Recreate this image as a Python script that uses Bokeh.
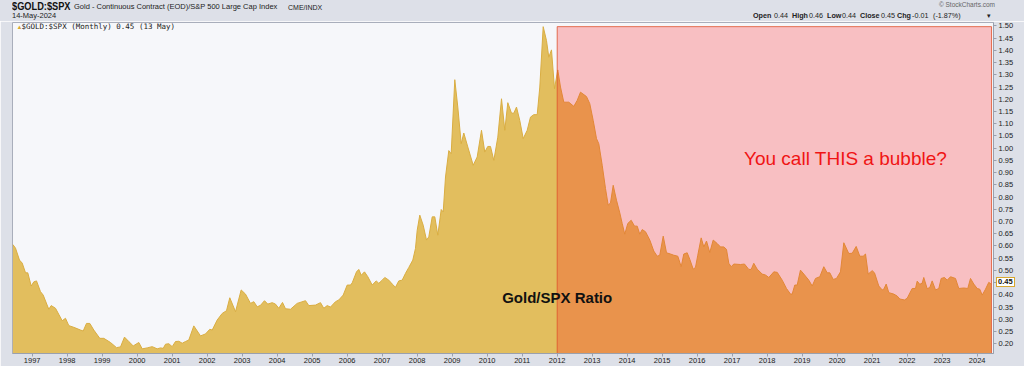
from bokeh.plotting import figure
from bokeh.models import Range1d, FixedTicker, Label, Div
from bokeh.layouts import column
from bokeh.embed import file_html
from bokeh.resources import INLINE

# ---- data (decimal year, Gold/SPX ratio) ----
t = [1996.446, 1996.523, 1996.637, 1996.714, 1996.809, 1996.874, 1996.971, 1997.046, 1997.123, 1997.237,
     1997.314, 1997.474, 1997.543, 1997.666, 1997.857, 1997.951, 1998.046, 1998.189, 1998.380, 1998.457,
     1998.551, 1998.646, 1998.760, 1998.931, 1999.046, 1999.237, 1999.409, 1999.523, 1999.637, 1999.760,
     1999.886, 2000.046, 2000.143, 2000.286, 2000.429, 2000.571, 2000.666, 2000.743, 2000.809, 2000.903,
     2001.000, 2001.094, 2001.189, 2001.286, 2001.380, 2001.474, 2001.617, 2001.809, 2001.951, 2002.074,
     2002.143, 2002.286, 2002.429, 2002.551, 2002.646, 2002.809, 2002.971, 2003.094, 2003.237, 2003.331,
     2003.429, 2003.523, 2003.637, 2003.731, 2003.857, 2003.951, 2004.046, 2004.151, 2004.237, 2004.380,
     2004.571, 2004.809, 2004.903, 2005.094, 2005.237, 2005.331, 2005.429, 2005.523, 2005.666, 2005.760,
     2005.886, 2006.000, 2006.094, 2006.143, 2006.266, 2006.331, 2006.400, 2006.494, 2006.589, 2006.714,
     2006.829, 2006.903, 2007.000, 2007.074, 2007.189, 2007.286, 2007.380, 2007.474, 2007.571, 2007.666,
     2007.760, 2007.874, 2007.951, 2008.000, 2008.074, 2008.171, 2008.266, 2008.331, 2008.429, 2008.503,
     2008.589, 2008.686, 2008.743, 2008.809, 2008.903, 2008.971, 2009.074, 2009.160, 2009.257, 2009.331,
     2009.446, 2009.600, 2009.714, 2009.837, 2009.931, 2010.017, 2010.094, 2010.189, 2010.303, 2010.409,
     2010.503, 2010.589, 2010.694, 2010.760, 2010.837, 2010.931, 2011.029, 2011.143, 2011.237, 2011.331,
     2011.429, 2011.503, 2011.600, 2011.694, 2011.760, 2011.837, 2011.923, 2012.017, 2012.094, 2012.189,
     2012.331, 2012.474, 2012.571, 2012.666, 2012.837, 2012.931, 2013.029, 2013.123, 2013.189, 2013.286,
     2013.380, 2013.457, 2013.523, 2013.600, 2013.694, 2013.789, 2013.857, 2013.931, 2014.017, 2014.114,
     2014.209, 2014.286, 2014.360, 2014.429, 2014.523, 2014.646, 2014.760, 2014.857, 2014.931, 2015.029,
     2015.123, 2015.237, 2015.331, 2015.446, 2015.543, 2015.617, 2015.714, 2015.789, 2015.886, 2015.951,
     2016.017, 2016.114, 2016.189, 2016.266, 2016.360, 2016.457, 2016.571, 2016.666, 2016.760, 2016.837,
     2016.903, 2016.971, 2017.046, 2017.237, 2017.351, 2017.474, 2017.543, 2017.617, 2017.714, 2017.857,
     2017.951, 2018.046, 2018.189, 2018.286, 2018.429, 2018.551, 2018.666, 2018.714, 2018.789, 2018.857,
     2018.951, 2019.046, 2019.189, 2019.286, 2019.380, 2019.503, 2019.617, 2019.714, 2019.789, 2019.886,
     2019.980, 2020.094, 2020.189, 2020.331, 2020.429, 2020.543, 2020.646, 2020.743, 2020.809, 2020.886,
     2021.000, 2021.066, 2021.189, 2021.286, 2021.331, 2021.400, 2021.474, 2021.617, 2021.714, 2021.789,
     2021.923, 2022.000, 2022.143, 2022.237, 2022.286, 2022.360, 2022.429, 2022.474, 2022.571, 2022.646,
     2022.714, 2022.809, 2022.903, 2022.971, 2023.066, 2023.143, 2023.237, 2023.380, 2023.474, 2023.617,
     2023.731, 2023.809, 2023.903, 2024.000, 2024.074, 2024.143, 2024.237, 2024.331, 2024.400]
ratio = [0.606, 0.591, 0.542, 0.530, 0.490, 0.490, 0.436, 0.453, 0.457, 0.413,
         0.399, 0.341, 0.356, 0.345, 0.294, 0.304, 0.274, 0.267, 0.256, 0.252,
         0.283, 0.283, 0.256, 0.222, 0.222, 0.205, 0.184, 0.187, 0.227, 0.209,
         0.191, 0.205, 0.179, 0.183, 0.188, 0.179, 0.183, 0.181, 0.198, 0.200,
         0.188, 0.209, 0.210, 0.202, 0.209, 0.215, 0.273, 0.232, 0.240, 0.259,
         0.256, 0.297, 0.324, 0.335, 0.388, 0.331, 0.420, 0.403, 0.365, 0.372,
         0.351, 0.357, 0.376, 0.362, 0.368, 0.362, 0.345, 0.369, 0.343, 0.341,
         0.365, 0.376, 0.356, 0.358, 0.368, 0.345, 0.356, 0.350, 0.372, 0.379,
         0.399, 0.440, 0.440, 0.449, 0.494, 0.504, 0.480, 0.494, 0.474, 0.440,
         0.457, 0.447, 0.460, 0.471, 0.460, 0.444, 0.431, 0.457, 0.460, 0.488,
         0.512, 0.542, 0.590, 0.664, 0.726, 0.685, 0.624, 0.637, 0.719, 0.719,
         0.644, 0.749, 0.739, 0.882, 0.990, 0.977, 1.280, 1.168, 1.018, 1.062,
         1.005, 0.930, 0.964, 1.073, 0.984, 1.007, 1.007, 0.950, 1.045, 1.202,
         1.073, 1.186, 1.143, 1.143, 1.168, 1.113, 1.039, 1.073, 1.127, 1.137,
         1.137, 1.250, 1.497, 1.440, 1.372, 1.402, 1.243, 1.320, 1.250, 1.188,
         1.188, 1.171, 1.195, 1.229, 1.211, 1.182, 1.113, 1.039, 1.018, 0.930,
         0.835, 0.767, 0.776, 0.848, 0.787, 0.735, 0.692, 0.648, 0.692, 0.705,
         0.681, 0.681, 0.648, 0.667, 0.658, 0.624, 0.579, 0.558, 0.562, 0.640,
         0.572, 0.567, 0.562, 0.558, 0.515, 0.567, 0.572, 0.545, 0.505, 0.512,
         0.562, 0.633, 0.596, 0.620, 0.573, 0.624, 0.610, 0.596, 0.596, 0.586,
         0.529, 0.515, 0.526, 0.524, 0.526, 0.504, 0.504, 0.529, 0.505, 0.485,
         0.481, 0.471, 0.494, 0.492, 0.460, 0.426, 0.403, 0.403, 0.440, 0.440,
         0.501, 0.485, 0.460, 0.436, 0.467, 0.474, 0.515, 0.490, 0.490, 0.463,
         0.467, 0.494, 0.613, 0.569, 0.570, 0.598, 0.558, 0.558, 0.567, 0.485,
         0.499, 0.490, 0.436, 0.420, 0.423, 0.444, 0.409, 0.403, 0.395, 0.383,
         0.379, 0.386, 0.426, 0.426, 0.456, 0.443, 0.448, 0.471, 0.425, 0.430,
         0.457, 0.420, 0.426, 0.467, 0.471, 0.460, 0.474, 0.467, 0.426, 0.428,
         0.426, 0.467, 0.444, 0.426, 0.423, 0.399, 0.423, 0.451, 0.444]

year_ticks = list(range(1997, 2025))
year_labels = [str(y) for y in year_ticks]
y_ticks = [0.20, 0.25, 0.30, 0.35, 0.40, 0.45, 0.50, 0.55, 0.60, 0.65, 0.70, 0.75, 0.80, 0.85,
           0.90, 0.95, 1.00, 1.05, 1.10, 1.15, 1.20, 1.25, 1.30, 1.35, 1.40, 1.45, 1.50]
y_tick_labels = ["%.2f" % v for v in y_ticks]
highlight_start = 2012.0
highlight_end = 2024.41
highlight_top = 1.497
last_value = 0.45

X0, X1 = 1996.437, 2024.466
Y0, Y1 = 0.16, 1.514

W = 1024
HDR = 21                 # header strip height (page px)
H = 366 - HDR            # figure height
ML, MR, MT, MB = 12, 31, 1, 13
FRAME_TOP = HDR + MT     # page px
FRAME_BOT = HDR + H - MB # page px
BG = "#dde0e8"

p = figure(width=W, height=H, output_backend="svg", toolbar_location=None,
           x_range=Range1d(X0, X1), y_range=Range1d(Y0, Y1),
           y_axis_location="right",
           min_border_left=ML, min_border_right=MR, min_border_top=MT, min_border_bottom=MB)
p.background_fill_color = "#f6f7fa"
p.border_fill_color = BG
p.outline_line_color = "#a9aebb"
p.grid.visible = False

gold = "#e2be5e"
p.varea(x=t, y1=Y0, y2=ratio, fill_color=gold)
p.line(x=t, y=ratio, line_color="#d9ad42", line_width=1)

p.quad(left=[highlight_start], right=[highlight_end], bottom=[Y0], top=[highlight_top],
       fill_color="#ff1215", fill_alpha=0.245, line_color="#e0502c", line_alpha=0.8, line_width=1)

# axes
xa = p.xaxis[0]
xa.ticker = FixedTicker(ticks=year_ticks)
xa.major_label_overrides = {y: s for y, s in zip(year_ticks, year_labels)}
xa.major_label_text_font = "Liberation Sans"
xa.major_label_text_font_size = "7.5px"
xa.major_label_text_color = "#222222"
xa.major_tick_out = 3
xa.major_tick_in = 0
xa.minor_tick_line_color = None
xa.major_label_standoff = 1
xa.axis_line_color = "#9aa0ad"
xa.major_tick_line_color = "#9aa0ad"

ya = p.yaxis[0]
ya.ticker = FixedTicker(ticks=y_ticks)
ya.major_label_overrides = {v: s for v, s in zip(y_ticks, y_tick_labels)}
ya.major_label_text_font = "Liberation Sans"
ya.major_label_text_font_size = "7.5px"
ya.major_label_text_color = "#222222"
ya.major_tick_out = 3
ya.major_tick_in = 0
ya.minor_tick_line_color = None
ya.major_label_standoff = 2
ya.axis_line_color = "#9aa0ad"
ya.major_tick_line_color = "#9aa0ad"

# screen-unit labels are relative to the frame's bottom-left corner
def lab(cx, cy, text, size="7.5px", bold=False, color="#222222", align="left",
        font="Liberation Sans"):
    p.add_layout(Label(x=cx - ML, y=FRAME_BOT - cy, x_units="screen", y_units="screen", text=text,
                       text_font=font, text_font_size=size,
                       text_font_style="bold" if bold else "normal",
                       text_color=color, text_align=align, text_baseline="middle"))

# annotations in data space
p.add_layout(Label(x=2012.0, y=0.391, text="Gold/SPX Ratio", text_align="center", text_baseline="middle",
                   text_font="Liberation Sans", text_font_style="bold", text_font_size="15px",
                   text_color="#111111"))
p.add_layout(Label(x=2020.24, y=0.958, text="You call THIS a bubble?", text_align="center",
                   text_baseline="middle", text_font="Liberation Sans", text_font_size="19px",
                   text_color="#f01414"))

# legend inside the plot
lab(16, 26, "\u25b2", size="6px", color="#d8a830")
lab(21, 26, "$GOLD:$SPX (Monthly) 0.45 (13 May)", size="7.5px", font="DejaVu Sans Mono")

# ---- header strip (HTML) ----
def span(left, center_y, text, size, bold=False, color="#222", right=None, extra=""):
    pos = "left:%dpx;" % left if right is None else "right:%dpx;" % right
    return ('<span style="position:absolute;%stop:%.1fpx;font-size:%s;line-height:%s;'
            'font-weight:%s;color:%s;white-space:nowrap;%s">%s</span>'
            % (pos, center_y - float(size[:-2]) / 2, size, size,
               "bold" if bold else "normal", color, extra, text))

parts = [
    span(12, 6.7, "$GOLD:$SPX", "11px", True, "#111",
         extra="transform:scaleX(0.84);transform-origin:left center;"),
    span(74, 7.0, "Gold - Continuous Contract (EOD)/S&amp;P 500 Large Cap Index", "7.5px"),
    span(288, 7.0, "CME/INDX", "7px"),
    span(12, 16.0, "14-May-2024", "7.5px"),
    span(0, 5.3, "\u00a9 StockCharts.com", "6.5px", color="#666", right=W - 995),
]
segs = [(753, "Open", True), (774, "0.44", False), (792, "High", True), (809, "0.46", False),
        (827, "Low", True), (842, "0.44", False), (860, "Close", True), (881, "0.45", False),
        (897, "Chg", True), (912, "-0.01", False), (933, "(-1.87%)", False), (987, "\u25be", False)]
for x, s, b in segs:
    parts.append(span(x, 16.0, s, "7.2px", b))

# boxed last value on the price axis (page y of 0.45 on the axis)
y_last = FRAME_TOP + (Y1 - last_value) / (Y1 - Y0) * (FRAME_BOT - FRAME_TOP)
parts.append(span(996, y_last - 1, "%.2f" % last_value, "7.5px", True, "#111",
                  extra="z-index:10;background:#fff;border:1px solid #d8a830;padding:0 1px;"))

header = Div(text='<div style="position:relative;width:%dpx;height:%dpx;background:%s;'
                  'font-family:\'Liberation Sans\',Arial,sans-serif;overflow:visible;">%s</div>'
                  % (W, HDR, BG, "".join(parts)),
             width=W, height=HDR, margin=(0, 0, 0, 0), disable_math=True,
             styles={"overflow": "visible", "z-index": "5"})

layout = column(header, p, spacing=0, margin=(0, 0, 0, 0))

open("out.html", "w").write(file_html(layout, INLINE))
